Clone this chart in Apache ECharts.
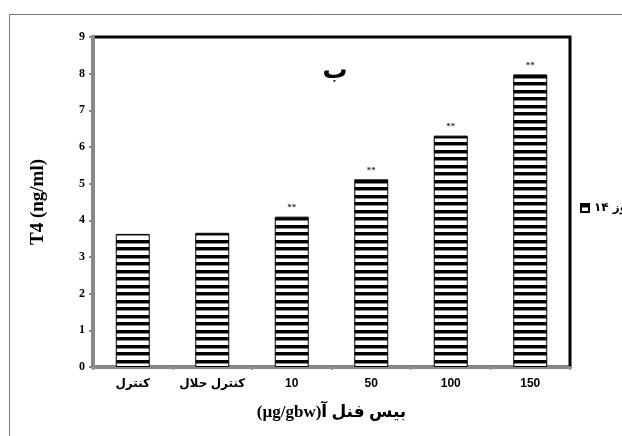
<!DOCTYPE html>
<html><head><meta charset="utf-8">
<script src="https://cdn.jsdelivr.net/npm/echarts@6/dist/echarts.min.js"></script>
<style>html,body{margin:0;padding:0;background:#fff}#c{width:622px;height:436px}</style>
</head><body><div id="c"></div>
<script>
const categories = ['کنترل', 'کنترل حلال', '10', '50', '100', '150'];
const t4Values = [3.63, 3.66, 4.1, 5.12, 6.31, 7.98];
const significance = ['', '', '**', '**', '**', '**'];
const yTicks = [0, 1, 2, 3, 4, 5, 6, 7, 8, 9];
const seriesName = 'روز ۱۴';
const titleText = 'ب';
const xName = '(µg/gbw)بیس فنل آ';
const yName = 'T4 (ng/ml)';

function stripes() {
  const c = document.createElement('canvas');
  c.width = 4; c.height = 15;
  const g = c.getContext('2d');
  g.fillStyle = '#fff'; g.fillRect(0, 0, 4, 15);
  g.fillStyle = '#000';
  g.fillRect(0, 0, 4, 3);
  g.fillRect(0, 7, 4, 3);
  g.fillStyle = '#888';
  g.fillRect(0, 3, 4, 1);
  g.fillRect(0, 10, 4, 1);
  return c;
}
const pat = { image: stripes(), repeat: 'repeat' };

const chart = echarts.init(document.getElementById('c'));
chart.setOption({
  animation: false,
  backgroundColor: '#fff',
  graphic: [{
    type: 'rect', shape: { x: 9.5, y: 14.5, width: 700, height: 500 },
    style: { fill: 'none', stroke: '#777', lineWidth: 1 }, z: -10
  }],
  title: {
    text: titleText, left: 330, top: 54, textAlign: 'center',
    textStyle: { fontSize: 25, fontWeight: 'bold', color: '#000', fontFamily: 'DejaVu Sans' }
  },
  legend: {
    show: true, left: 575, top: 197, itemWidth: 8, itemHeight: 8, itemGap: 3,
    icon: 'rect', data: [seriesName],
    textStyle: { fontSize: 12, fontWeight: 'bold', color: '#000', fontFamily: 'DejaVu Sans' }
  },
  grid: {
    left: 93, right: 52, top: 37, bottom: 69, show: true,
    borderColor: '#000', borderWidth: 3
  },
  xAxis: {
    type: 'category', data: categories, offset: 2,
    name: xName, nameLocation: 'middle', nameGap: 35,
    nameTextStyle: { fontSize: 17, fontWeight: 'bold', color: '#000', fontFamily: "'Liberation Serif', 'DejaVu Sans'" },
    axisLine: { lineStyle: { color: '#888', width: 3 } },
    axisTick: { show: true, length: 3, lineStyle: { color: '#999', width: 2 } },
    axisLabel: { interval: 0, fontSize: 12, fontWeight: 'bold', color: '#000', margin: 9, fontFamily: "'Liberation Sans', 'DejaVu Sans'" }
  },
  yAxis: {
    type: 'value', min: 0, max: 9, interval: 1,
    name: yName, nameLocation: 'middle', nameGap: 45, nameRotate: 90,
    nameTextStyle: { fontSize: 19, fontWeight: 'bold', color: '#000', fontFamily: 'Liberation Serif' },
    axisLine: { show: true, lineStyle: { color: '#888', width: 4 } },
    axisTick: { show: true, length: 4, lineStyle: { color: '#888', width: 2 } },
    splitLine: { show: false },
    axisLabel: {
      fontSize: 12, fontWeight: 'bold', color: '#000', margin: 8, fontFamily: 'Liberation Serif',
      formatter: v => yTicks.includes(v) ? String(v) : ''
    }
  },
  series: [{
    name: seriesName, type: 'bar', data: t4Values, barWidth: 34,
    itemStyle: { color: pat, borderColor: '#000', borderWidth: 1 },
    label: {
      show: true, position: 'top', distance: 4,
      formatter: p => significance[p.dataIndex],
      fontSize: 9, fontWeight: 'bold', color: '#333', fontFamily: 'Liberation Serif'
    }
  }]
});
</script></body></html>
